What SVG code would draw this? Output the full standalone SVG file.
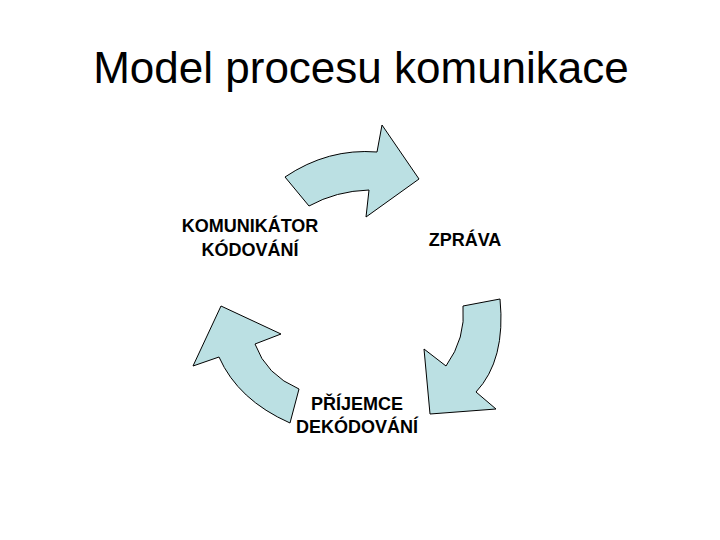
<svg xmlns="http://www.w3.org/2000/svg" width="720" height="540" viewBox="0 0 720 540">
<style>
.arrow{fill:#BBE0E3;stroke:#000;stroke-width:1;stroke-linejoin:miter}
.lbl{font-family:"Liberation Sans",Arial,sans-serif;font-weight:bold;font-size:18px;fill:#000;text-anchor:middle}
.title{font-family:"Liberation Sans",Arial,sans-serif;font-size:44px;fill:#000;text-anchor:middle}
</style>
<rect width="720" height="540" fill="#fff"/>
<text class="title" x="361" y="83">Model procesu komunikace</text>
<g id="connectors">
<path class="arrow" d="M285,177 Q328,148 377,152 L382,125 L419,179 L366,217 L369,190 Q336,191 309,206 Z"/>
<path class="arrow" d="M463,306 L500,299 Q506,360 476,392 L496,409 L430,414 L424,349 L446,366 Q466,338 463,306 Z"/>
<path class="arrow" d="M221,306 L281,334 L255,344 Q266,375 299,389 L290,423 Q238,400 219,357 L193,366 Z"/>
</g>
<g id="komunikator">
<text class="lbl" x="250" y="232">KOMUNIKÁTOR</text>
<text class="lbl" x="250" y="256">KÓDOVÁNÍ</text>
</g>
<g id="zprava">
<text class="lbl" x="465" y="246">ZPRÁVA</text>
</g>
<g id="prijemce">
<text class="lbl" x="357" y="410">PŘÍJEMCE</text>
<text class="lbl" x="357" y="433">DEKÓDOVÁNÍ</text>
</g>
</svg>
